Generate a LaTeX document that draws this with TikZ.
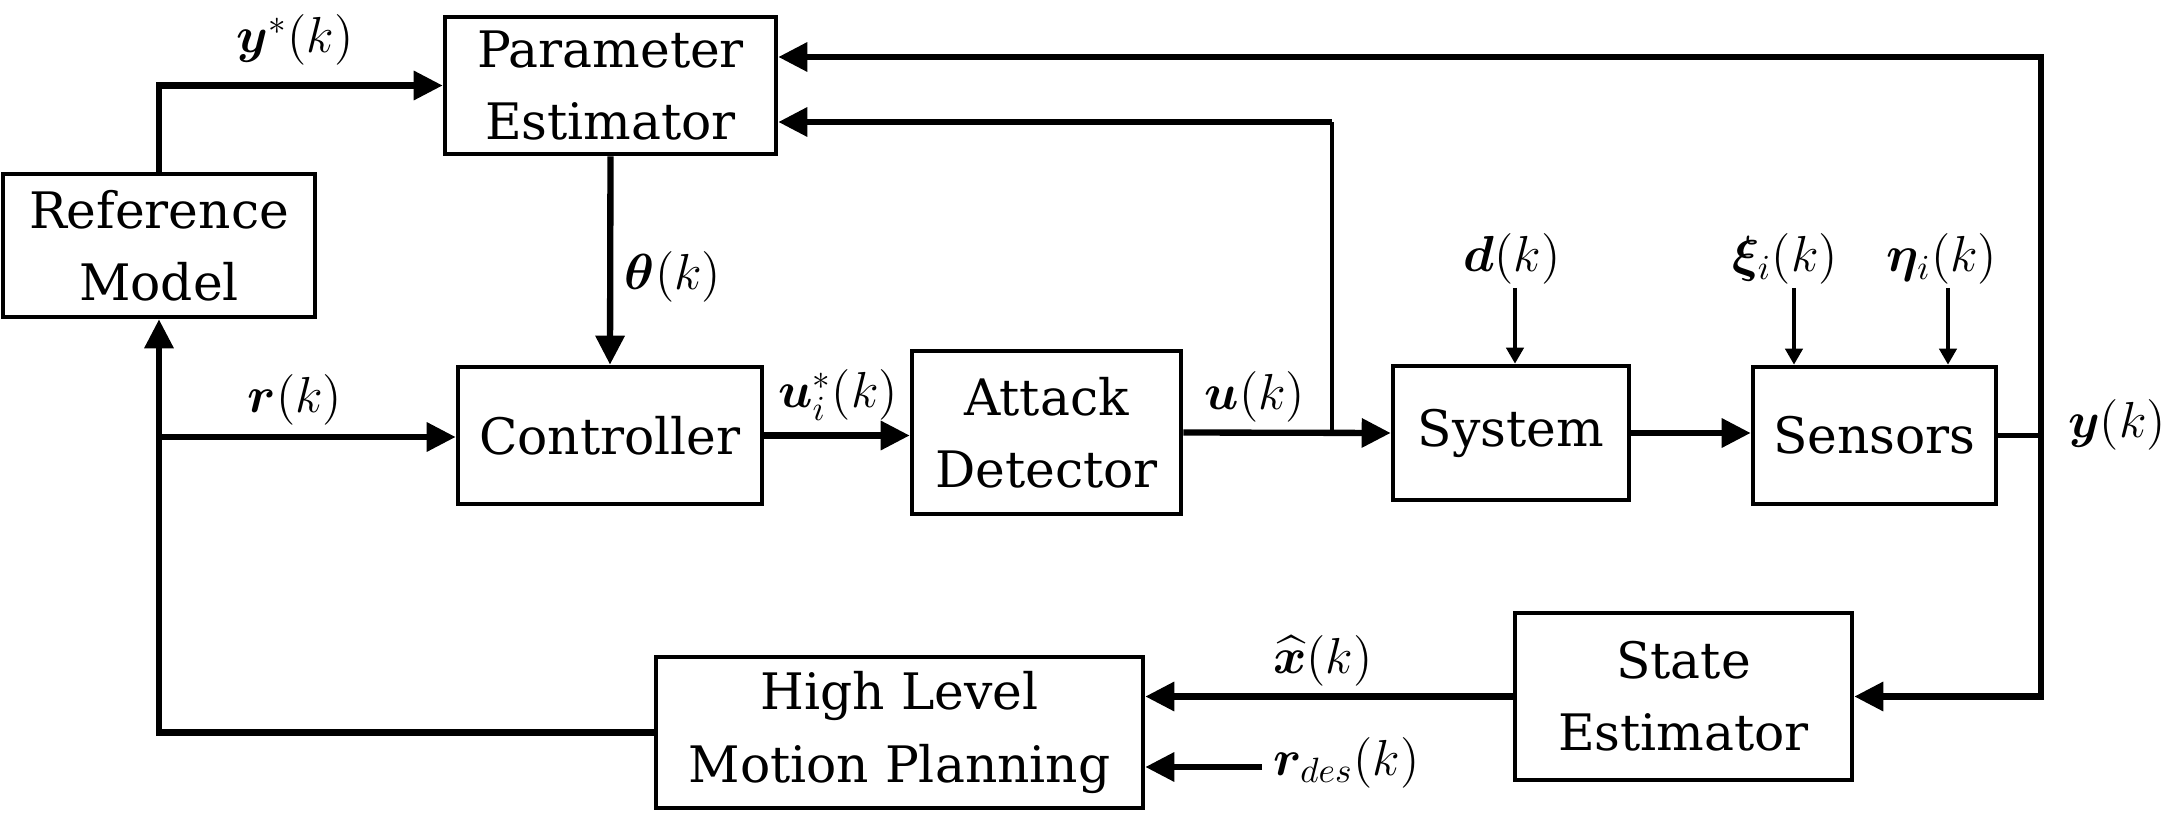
\documentclass[tikz,border=0pt]{standalone}
\usepackage{fontspec}
\setmainfont{DejaVu Serif}
\usepackage{amsmath}
\usepackage{bm}
\usetikzlibrary{arrows.meta}

\tikzset{
    block/.style={draw, line width=1.3pt, align=center, inner sep=0pt, font=\fontsize{14.3}{20.5}\selectfont},
    conn/.style={line width=1.8pt, -{Triangle[length=0.29cm,width=0.28cm]}},
    wire/.style={line width=1.4pt},
    dist/.style={line width=1.4pt, -{Triangle[length=0.16cm,width=0.17cm]}},
    lbl/.style={anchor=base, inner sep=0pt, font=\fontsize{14.3}{17}\selectfont}
}

\begin{document}
\begin{tikzpicture}
    \useasboundingbox (0,0) rectangle (21.78,-8.2);
    % blocks
    \node[block, minimum width=3.12cm, minimum height=1.43cm] (ref) at (1.59,-2.455) {Reference\\Model};
    \node[block, minimum width=3.31cm, minimum height=1.37cm] (pe) at (6.105,-0.855) {Parameter\\Estimator};
    \node[block, minimum width=3.04cm, minimum height=1.37cm] (ctrl) at (6.10,-4.355) {Controller};
    \node[block, minimum width=2.69cm, minimum height=1.63cm] (ad) at (10.465,-4.325) {Attack\\Detector};
    \node[block, minimum width=2.36cm, minimum height=1.34cm] (sys) at (15.11,-4.33) {System};
    \node[block, minimum width=2.43cm, minimum height=1.37cm] (sen) at (18.745,-4.355) {Sensors};
    \node[block, minimum width=3.37cm, minimum height=1.67cm] (se) at (16.835,-6.965) {State\\Estimator};
    \node[block, minimum width=4.87cm, minimum height=1.51cm] (hlmp) at (8.995,-7.325) {High Level\\Motion Planning};

    % signal labels
    \node[lbl] (ystar) at (2.95,-0.53) {$\bm{y}^{*}(k)$};
    \node[lbl] (theta) at (6.73,-2.90) {$\bm{\theta}(k)$};
    \node[lbl] (r) at (2.95,-4.13) {$\bm{r}(k)$};
    \node[lbl] (ustar) at (8.38,-4.08) {$\bm{u}_i^{*}(k)$};
    \node[lbl] (u) at (12.55,-4.10) {$\bm{u}(k)$};
    \node[lbl] (d) at (15.12,-2.72) {$\bm{d}(k)$};
    \node[lbl] (xi) at (17.85,-2.72) {$\bm{\xi}_i(k)$};
    \node[lbl] (eta) at (19.42,-2.72) {$\bm{\eta}_i(k)$};
    \node[lbl] (y) at (21.17,-4.38) {$\bm{y}(k)$};
    \node[lbl] (xhat) at (13.23,-6.73) {$\widehat{\bm{x}}(k)$};
    \node[lbl, anchor=base west] (rdes) at (12.73,-7.75) {$\bm{r}_{des}(k)$};

    % reference model to estimator
    \draw[conn] (ref.north) |- (pe.west);
    % parameters
    \draw[conn] (pe.south) -- (ctrl.north);
    % forward path
    \draw[conn] (ctrl.east) -- (ctrl.east -| ad.west);
    \draw[conn] (ad.east) -- (sys.west);
    \draw[conn] (sys.east) -- (sys.east -| sen.west);
    % input back to estimator
    \coordinate (uj) at (13.32,-4.33);
    \coordinate (ut) at (13.32,-1.22);
    \draw[wire] (uj) -- (ut);
    \draw[conn] (ut) -- (ut -| pe.east);
    % disturbance and noise
    \foreach \x/\b [count=\i] in {15.15/sys,17.94/sen,19.48/sen}
        {
            \coordinate (n\i) at (\x,-2.88);
            \draw[dist] (n\i) -- (n\i |- \b.north);
        }
    % measured output
    \coordinate (yj) at (20.41,-4.355);
    \coordinate (yt) at (20.41,-0.57);
    \draw[wire] (sen.east) -- (yj);
    \draw[conn] (yj) -- (yt) -- (yt -| pe.east);
    \draw[conn] (yj) |- (se.east);
    % state estimate and desired reference
    \draw[conn] (se.west) -- (se.west -| hlmp.east);
    \coordinate (rd) at (12.62,-7.67);
    \draw[conn] (rd) -- (rd -| hlmp.east);
    % planner back to reference model
    \draw[conn] (hlmp.west) -| (ref.south);
    \coordinate (rj) at (1.59,-4.37);
    \draw[conn] (rj) -- (rj -| ctrl.west);
\end{tikzpicture}
\end{document}
